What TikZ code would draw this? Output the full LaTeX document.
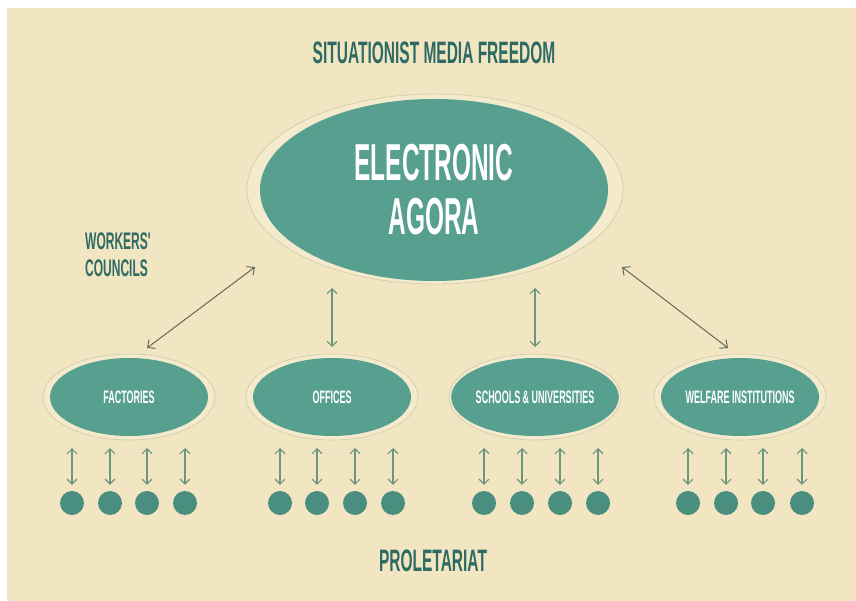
\documentclass[tikz,border=0pt]{standalone}
\usepackage{fontspec}
\newfontfamily\cond{Liberation Sans}[FakeStretch=0.5]
\newfontfamily\condn{Liberation Sans}[FakeStretch=0.47]
\usetikzlibrary{arrows.meta,shapes.geometric}
\definecolor{paper}{HTML}{F1E6C1}
\definecolor{halofill}{HTML}{F4EBCD}
\definecolor{haloline}{HTML}{D6CFAF}
\definecolor{tealfill}{HTML}{57A090}
\definecolor{dotfill}{HTML}{4A8E7F}
\definecolor{inkteal}{HTML}{2E6B64}
\definecolor{arrowgreen}{HTML}{6C977E}
\definecolor{arrowgray}{HTML}{5E6B5E}
\tikzset{
  halo/.style={ellipse, fill=halofill, draw=haloline, line width=0.8pt, inner sep=0pt},
  bigell/.style={ellipse, fill=tealfill, inner sep=0pt, minimum width=348pt, minimum height=182pt,
    text=white, align=center, font=\condn\bfseries\fontsize{52}{54}\selectfont},
  smallell/.style={ellipse, fill=tealfill, inner sep=0pt, minimum width=158pt, minimum height=78pt,
    text=white, font=\cond\bfseries\fontsize{18}{20}\selectfont},
  dotnode/.style={circle, fill=dotfill, inner sep=0pt, minimum size=24pt},
  lbl/.style={text=inkteal, font=\cond\bfseries\fontsize{31}{33}\selectfont, inner sep=0pt},
  sidelbl/.style={text=inkteal, font=\cond\bfseries\fontsize{24}{27}\selectfont, align=left, inner sep=0pt},
  smallarr/.style={draw=arrowgreen, line width=1.1pt, {Straight Barb[length=5pt,width=10pt]}-{Straight Barb[length=5pt,width=10pt]}},
  bigarr/.style={draw=arrowgray, line width=1.0pt, {Straight Barb[length=6pt,width=11pt]}-{Straight Barb[length=6pt,width=11pt]}}
}
\begin{document}
\begin{tikzpicture}[x=1pt,y=-1pt]
\fill[white] (0,0) rectangle (856,601);
\fill[paper] (7,8) rectangle (856,601);
\useasboundingbox (0,0) rectangle (856,601);

% titles
\node[lbl] (title) at (434,53) {SITUATIONIST MEDIA FREEDOM};
\node[lbl] (prol) at (433,561) {PROLETARIAT};
\node[sidelbl, anchor=west] (wc) at (85,255) {WORKERS'\\COUNCILS};

% big ellipse
\node[halo, minimum width=376pt, minimum height=190pt] (agorahalo) at (435,189) {};
\node[bigell] (agora) at (434,190) {ELECTRONIC\\AGORA};

% small ellipses
\foreach \n/\x/\t in {fac/129/FACTORIES, off/332/OFFICES, sch/535/SCHOOLS \& UNIVERSITIES, wel/740/WELFARE INSTITUTIONS}{
  \node[halo, minimum width=172pt, minimum height=86pt] (\n halo) at (\x,397) {};
  \node[smallell] (\n) at (\x,397) {\t};
}

% dots and arrows
\foreach \n/\a/\b/\c/\d in {fac/72/110/147/185, off/280/317/355/393, sch/484/522/560/598, wel/688/726/763/802}{
  \foreach \xx [count=\i] in {\a,\b,\c,\d}{
    \node[dotnode] (\n d\i) at (\xx,503) {};
    \coordinate (\n t\i) at (\xx,448);
    \draw[smallarr] (\n t\i) -- ([yshift=6pt]\n d\i.north);
  }
}

% arrows from agora
\coordinate (la) at (255,267);
\coordinate (lb) at (147,348);
\coordinate (ra) at (622,267);
\coordinate (rb) at (728,348);
\coordinate (ma) at (332,288);
\coordinate (mb) at (332,347);
\coordinate (na) at (535,288);
\coordinate (nb) at (535,347);
\draw[bigarr] (la) -- (lb);
\draw[bigarr] (ra) -- (rb);
\draw[smallarr] (ma) -- (mb);
\draw[smallarr] (na) -- (nb);
\end{tikzpicture}
\end{document}
